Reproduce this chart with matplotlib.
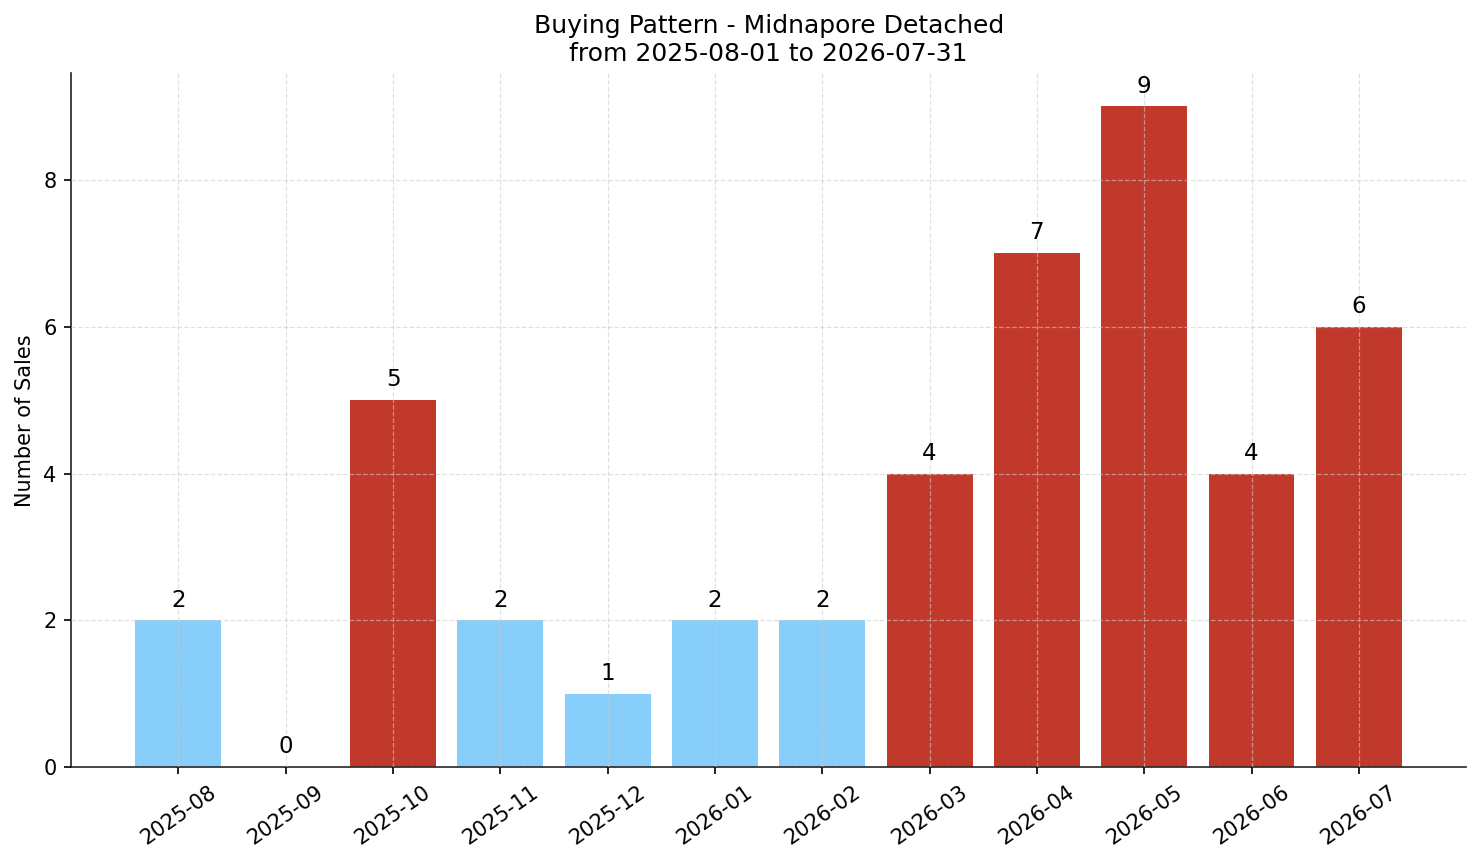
import numpy as np
import matplotlib.pyplot as plt

# Monthly sales counts
months = ['2025-08', '2025-09', '2025-10', '2025-11', '2025-12', '2026-01',
          '2026-02', '2026-03', '2026-04', '2026-05', '2026-06', '2026-07']
sales = [2, 0, 5, 2, 1, 2, 2, 4, 7, 9, 4, 6]

avg = np.mean(sales)
colors = ['#c0392b' if s > avg else '#87cefa' for s in sales]

fig, ax = plt.subplots(figsize=(1481 / 150, 863 / 150), dpi=150)
fig.subplots_adjust(left=0.048, right=0.99, top=0.915, bottom=0.111)

x = np.arange(len(months))
bars = ax.bar(x, sales, width=0.8, color=colors, zorder=1)

for b, s in zip(bars, sales):
    ax.text(b.get_x() + b.get_width() / 2, s + 0.12, str(s),
            ha='center', va='bottom', fontsize=11)

ax.set_xticks(x)
ax.set_xticklabels(months, rotation=35, ha='center', fontsize=10)
ax.tick_params(axis='y', labelsize=10)
ax.set_xlim(-1, 12)
ax.set_ylim(0, max(sales) * 1.05)
ax.set_yticks([0, 2, 4, 6, 8])
ax.set_ylabel('Number of Sales', fontsize=10)
ax.set_title('Buying Pattern - Midnapore Detached\nfrom 2025-08-01 to 2026-07-31', fontsize=12)

ax.grid(True, linestyle='--', linewidth=0.6, color='#cccccc', alpha=0.6, zorder=3)
ax.set_axisbelow(False)
for sp in ['top', 'right']:
    ax.spines[sp].set_visible(False)
for sp in ['left', 'bottom']:
    ax.spines[sp].set_color('#222222')

plt.savefig('out.png', dpi=150)
